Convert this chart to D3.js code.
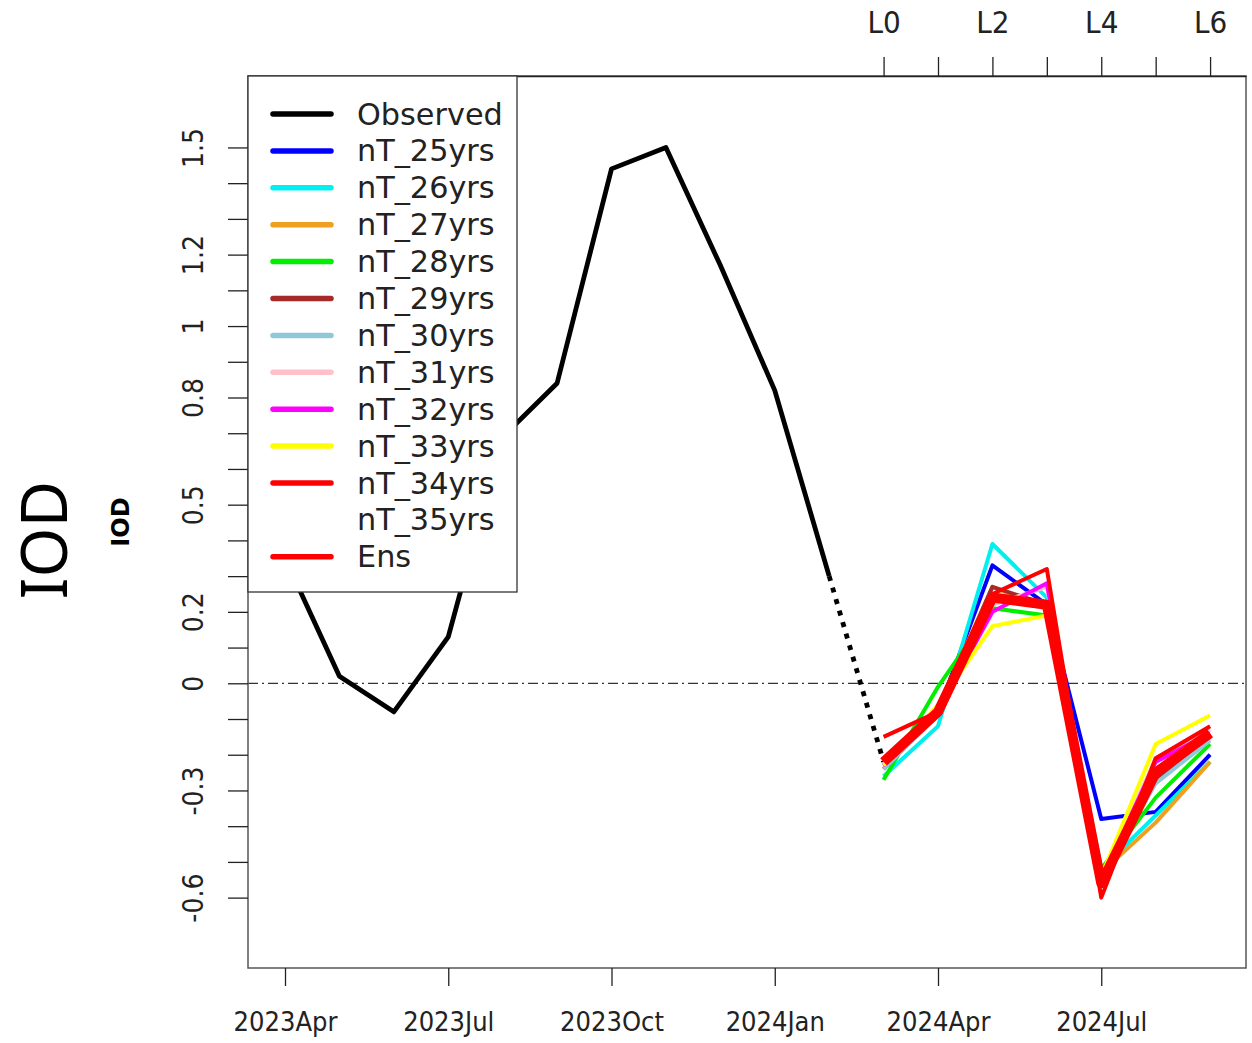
<!DOCTYPE html>
<html>
<head>
<meta charset="utf-8">
<script src="https://cdn.jsdelivr.net/npm/d3@7"></script>
<style>
  html, body { margin: 0; padding: 0; background: #fff; }
  svg { display: block; }
</style>
</head>
<body>
<svg id="chart" width="1252" height="1043"></svg>
<script>
// ---------- data ----------
const obsMonths = ["2023Apr","2023May","2023Jun","2023Jul","2023Aug","2023Sep","2023Oct","2023Nov","2023Dec","2024Jan","2024Feb"];
const obsValues = [0.35, 0.02, -0.08, 0.13, 0.69, 0.84, 1.44, 1.50, 1.17, 0.82, 0.30];

const leadLabels = ["L0","L1","L2","L3","L4","L5","L6"];
const leadTickText = ["L0","","L2","","L4","","L6"];
const leadMonthIndex = [11,12,13,14,15,16,17];   // 2024Mar .. 2024Sep

const seriesNames = ["nT_25yrs","nT_26yrs","nT_27yrs","nT_28yrs","nT_29yrs","nT_30yrs","nT_31yrs","nT_32yrs","nT_33yrs","nT_34yrs","nT_35yrs"];
const seriesColors = ["#0000FF","#00F0F0","#F0A020","#00EE00","#A52A2A","#90C8D8","#FFC0CB","#FF00FF","#FFFF00","#FF0000","#FFFFFF"];
const nT25 = [-0.23, -0.08, 0.33, 0.22, -0.38, -0.36, -0.20];
const nT26 = [-0.26, -0.12, 0.39, 0.24, -0.52, -0.37, -0.22];
const nT27 = [-0.24, -0.07, 0.27, 0.21, -0.53, -0.39, -0.22];
const nT28 = [-0.27, -0.01, 0.21, 0.19, -0.52, -0.32, -0.17];
const nT29 = [-0.24, -0.08, 0.27, 0.22, -0.55, -0.27, -0.15];
const nT30 = [-0.24, -0.09, 0.24, 0.21, -0.55, -0.28, -0.16];
const nT31 = [-0.22, -0.08, 0.22, 0.27, -0.55, -0.21, -0.13];
const nT32 = [-0.23, -0.08, 0.20, 0.28, -0.55, -0.22, -0.14];
const nT33 = [-0.23, -0.06, 0.16, 0.19, -0.54, -0.17, -0.09];
const nT34 = [-0.15, -0.08, 0.25, 0.32, -0.60, -0.21, -0.12];
const nT35 = null; // no visible line
const ensValues = [-0.22, -0.08, 0.24, 0.22, -0.56, -0.25, -0.14];
const seriesValues = [nT25, nT26, nT27, nT28, nT29, nT30, nT31, nT32, nT33, nT34, nT35];

const xTickLabels = ["2023Apr","2023Jul","2023Oct","2024Jan","2024Apr","2024Jul"];
const xTickIndex = [0, 3, 6, 9, 12, 15];
const yTickValues = [-0.6,-0.5,-0.4,-0.3,-0.2,-0.1,0,0.1,0.2,0.3,0.4,0.5,0.6,0.7,0.8,0.9,1.0,1.1,1.2,1.3,1.4,1.5];
const yTickLabelValues = [-0.6,-0.3,0,0.2,0.5,0.8,1,1.2,1.5];

const legendNames = ["Observed"].concat(seriesNames, ["Ens"]);
const legendColors = ["#000000"].concat(seriesColors, ["#FF0000"]);

// ---------- layout ----------
const L = 248, R = 1246, T = 76, B = 968;
const svg = d3.select("#chart");
const x = d3.scaleLinear().domain([-0.68, 17.66]).range([L, R]);
const y = d3.scaleLinear().domain([-0.797, 1.70]).range([B, T]);

const tickFont = "'DejaVu Sans Condensed', 'DejaVu Sans', sans-serif";

// zero line
svg.append("line")
  .attr("x1", L).attr("x2", R).attr("y1", y(0)).attr("y2", y(0))
  .attr("stroke", "#333").attr("stroke-width", 1.3)
  .attr("stroke-dasharray", "10,4,2,4");

const line = d3.line().x(d => x(d[0])).y(d => y(d[1]));

// observed
svg.append("path")
  .datum(obsValues.map((v, i) => [i, v]))
  .attr("d", line).attr("fill", "none")
  .attr("stroke", "#000").attr("stroke-width", 4.8).attr("stroke-linejoin", "round");

// dotted bridge to forecast start
svg.append("path")
  .datum([[obsValues.length - 1, obsValues[obsValues.length - 1]], [leadMonthIndex[0], ensValues[0]]])
  .attr("d", line).attr("fill", "none")
  .attr("stroke", "#000").attr("stroke-width", 4.8)
  .attr("stroke-dasharray", "5,7");

// members
seriesValues.forEach((vals, k) => {
  if (!vals) return;
  svg.append("path")
    .datum(vals.map((v, i) => [leadMonthIndex[i], v]))
    .attr("d", line).attr("fill", "none")
    .attr("stroke", seriesColors[k]).attr("stroke-width", 4)
    .attr("stroke-linejoin", "round");
});

// ensemble
svg.append("path")
  .datum(ensValues.map((v, i) => [leadMonthIndex[i], v]))
  .attr("d", line).attr("fill", "none")
  .attr("stroke", "#FF0000").attr("stroke-width", 10)
  .attr("stroke-linejoin", "round");

// plot box
svg.append("rect")
  .attr("x", L).attr("y", T).attr("width", R - L).attr("height", B - T)
  .attr("fill", "none").attr("stroke", "#555").attr("stroke-width", 1.5);

// bottom axis
const xAxis = d3.axisBottom(x).tickValues(xTickIndex)
  .tickFormat((d, i) => xTickLabels[i]).tickSize(18).tickSizeOuter(0);
const gx = svg.append("g").attr("transform", `translate(0,${B})`).call(xAxis);
gx.select(".domain").remove();
gx.selectAll(".tick line").attr("stroke", "#222").attr("stroke-width", 1.3);
gx.selectAll(".tick text").attr("font-family", tickFont).attr("font-size", 27)
  .attr("fill", "#222").attr("y", 44);

// top axis (lead times)
const xTop = d3.axisTop(x).tickValues(leadMonthIndex)
  .tickFormat((d, i) => leadTickText[i]).tickSize(19).tickSizeOuter(0);
const gt = svg.append("g").attr("transform", `translate(0,${T})`).call(xTop);
gt.select(".domain").attr("stroke", "#222").attr("stroke-width", 1.5);
gt.selectAll(".tick line").attr("stroke", "#222").attr("stroke-width", 1.3);
gt.selectAll(".tick text").attr("font-family", tickFont).attr("font-size", 31)
  .attr("fill", "#222").attr("y", -43);

// left axis
const yAxis = d3.axisLeft(y).tickValues(yTickValues).tickSize(20).tickSizeOuter(0)
  .tickFormat(d => {
    const hit = yTickLabelValues.find(v => Math.abs(v - d) < 1e-9);
    return hit === undefined ? "" : String(hit);
  });
const gy = svg.append("g").attr("transform", `translate(${L},0)`).call(yAxis);
gy.select(".domain").remove();
gy.selectAll(".tick line").attr("stroke", "#222").attr("stroke-width", 1.3);
gy.selectAll(".tick text").attr("font-family", tickFont).attr("font-size", 28)
  .attr("fill", "#222")
  .attr("x", null).attr("dy", null)
  .attr("transform", "translate(-55,0) rotate(-90)")
  .attr("text-anchor", "middle").attr("dominant-baseline", "central");

// legend
const lg = svg.append("g");
lg.append("rect").attr("x", L).attr("y", T).attr("width", 517 - L).attr("height", 592 - T)
  .attr("fill", "#fff").attr("stroke", "#333").attr("stroke-width", 1.3);
legendNames.forEach((name, i) => {
  const yy = 114 + i * 36.9;
  lg.append("line").attr("x1", 273).attr("x2", 331).attr("y1", yy).attr("y2", yy)
    .attr("stroke", legendColors[i]).attr("stroke-width", 5.5).attr("stroke-linecap", "round");
  lg.append("text").attr("x", 357).attr("y", yy).attr("dominant-baseline", "central")
    .attr("font-family", "'DejaVu Sans', sans-serif").attr("font-size", 30.3)
    .attr("fill", "#222").text(name);
});

// y titles
svg.append("text").attr("transform", "translate(67,540) rotate(-90)")
  .attr("text-anchor", "middle").attr("font-family", "'Noto Sans', 'Open Sans', sans-serif")
  .attr("font-size", 64).attr("fill", "#000").text("IOD");
svg.append("text").attr("transform", "translate(129,522) rotate(-90)")
  .attr("text-anchor", "middle").attr("font-family", "'DejaVu Sans', sans-serif")
  .attr("font-weight", "bold").attr("font-size", 24).attr("fill", "#000").text("IOD");
</script>
</body>
</html>
